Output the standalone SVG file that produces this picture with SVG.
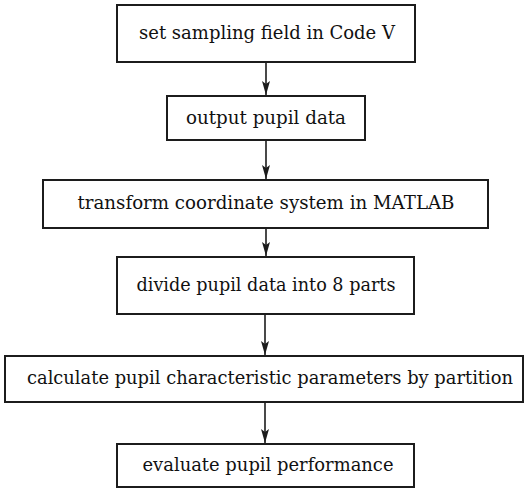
<svg xmlns="http://www.w3.org/2000/svg" width="525" height="489" viewBox="0 0 525 489">
<style>
.box{fill:#fff;stroke:#1c1c1c;stroke-width:2}
.t{font-family:"DejaVu Serif","Liberation Serif",serif;font-size:18px;fill:#111;text-anchor:middle}
.c{stroke:#1c1c1c;stroke-width:1.6;fill:none}
</style>
<defs>
<marker id="ah" markerWidth="14" markerHeight="8" refX="14" refY="4" orient="auto" markerUnits="userSpaceOnUse" viewBox="0 0 14 8">
<path d="M0,0 L14,4 L0,8 L3,4 Z" fill="#1c1c1c"/>
</marker>
</defs>
<rect width="525" height="489" fill="#fff"/>
<g id="connectors">
<line class="c" x1="266" y1="62" x2="266" y2="95" marker-end="url(#ah)"/>
<line class="c" x1="266" y1="140" x2="266" y2="179" marker-end="url(#ah)"/>
<line class="c" x1="266" y1="228" x2="266" y2="256" marker-end="url(#ah)"/>
<line class="c" x1="265" y1="314" x2="265" y2="355" marker-end="url(#ah)"/>
<line class="c" x1="265" y1="402" x2="265" y2="443" marker-end="url(#ah)"/>
</g>
<g id="n1"><rect class="box" x="117" y="5" width="298" height="57"/><text class="t" x="267" y="39" textLength="256" lengthAdjust="spacingAndGlyphs">set sampling field in Code V</text></g>
<g id="n2"><rect class="box" x="167" y="96" width="198" height="44"/><text class="t" x="266" y="124" textLength="160" lengthAdjust="spacingAndGlyphs">output pupil data</text></g>
<g id="n3"><rect class="box" x="43" y="180" width="445" height="48"/><text class="t" x="266" y="209" textLength="377" lengthAdjust="spacingAndGlyphs">transform coordinate system in MATLAB</text></g>
<g id="n4"><rect class="box" x="117" y="257" width="297" height="57"/><text class="t" x="266" y="291" textLength="259" lengthAdjust="spacingAndGlyphs">divide pupil data into 8 parts</text></g>
<g id="n5"><rect class="box" x="5" y="356" width="518" height="46"/><text class="t" x="270" y="384" textLength="486" lengthAdjust="spacingAndGlyphs">calculate pupil characteristic parameters by partition</text></g>
<g id="n6"><rect class="box" x="117" y="444" width="297" height="43"/><text class="t" x="268" y="471" textLength="251" lengthAdjust="spacingAndGlyphs">evaluate pupil performance</text></g>
</svg>
